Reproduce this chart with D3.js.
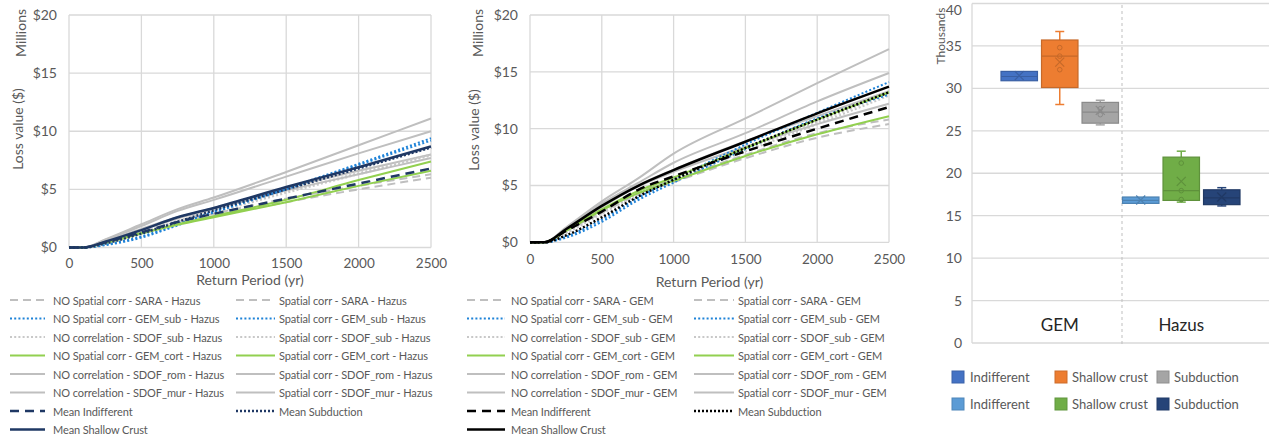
<!DOCTYPE html>
<html><head><meta charset="utf-8">
<script src="https://cdn.jsdelivr.net/npm/d3@7"></script>
<style>body{margin:0;background:#fff}svg{display:block;font-family:Lato,'Open Sans',sans-serif}</style>
</head><body><svg id="c" width="1269" height="439"></svg>
<script>
// ---------------- DATA ----------------
const returnPeriods = [0, 100, 250, 500, 750, 1000, 1500, 2000, 2500];
const xTicks = [0, 500, 1000, 1500, 2000, 2500];
const yTicksLoss = [0, 5, 10, 15, 20];

// Hazus (left chart), values in $ millions
const hazusNoSara      = [0, 0, 0.45, 1.2, 2.0, 2.7, 3.9, 5.0, 6.0];
const hazusSpSara      = [0, 0, 0.5, 1.3, 2.2, 2.9, 4.2, 5.3, 6.3];
const hazusNoGemSub    = [0, 0, 0.2, 0.85, 1.9, 3.0, 5.0, 7.1, 9.2];
const hazusSpGemSub    = [0, 0, 0.25, 0.95, 2.0, 3.1, 5.1, 7.2, 9.4];
const hazusNoSdofSub   = [0, 0, 0.35, 1.2, 2.2, 3.0, 4.7, 6.3, 7.9];
const hazusSpSdofSub   = [0, 0, 0.4, 1.3, 2.3, 3.1, 4.8, 6.4, 8.0];
const hazusNoGemCort   = [0, 0, 0.4, 1.2, 1.95, 2.6, 3.9, 5.3, 6.6];
const hazusSpGemCort   = [0, 0, 0.45, 1.25, 2.0, 2.7, 4.1, 5.8, 7.4];
const hazusNoSdofRom   = [0, 0, 0.7, 2.0, 3.3, 4.3, 6.5, 8.8, 11.1];
const hazusSpSdofRom   = [0, 0, 0.65, 1.85, 3.15, 4.1, 6.1, 8.1, 10.0];
const hazusNoSdofMur   = [0, 0, 0.55, 1.6, 2.6, 3.4, 5.1, 6.6, 8.0];
const hazusSpSdofMur   = [0, 0, 0.5, 1.5, 2.5, 3.3, 4.9, 6.3, 7.7];
const hazusMeanInd     = [0, 0, 0.45, 1.3, 2.2, 2.9, 4.2, 5.5, 6.8];
const hazusMeanSub     = [0, 0, 0.35, 1.2, 2.2, 3.2, 5.0, 6.8, 8.6];
const hazusMeanShallow = [0, 0, 0.5, 1.5, 2.6, 3.4, 5.2, 6.9, 8.7];

// GEM (middle chart), values in $ millions
const gemNoSara      = [0, 0, 1.0, 2.6, 4.2, 5.3, 7.4, 9.2, 10.4];
const gemSpSara      = [0, 0, 1.05, 2.7, 4.4, 5.5, 7.7, 9.6, 10.8];
const gemNoGemSub    = [0, 0, 0.4, 1.8, 3.7, 5.25, 8.2, 10.9, 13.0];
const gemSpGemSub    = [0, 0, 0.5, 2.0, 3.9, 5.5, 8.6, 11.4, 14.1];
const gemNoSdofSub   = [0, 0, 0.8, 2.5, 4.2, 5.6, 8.0, 10.4, 12.9];
const gemSpSdofSub   = [0, 0, 0.85, 2.6, 4.3, 5.7, 8.2, 10.6, 13.1];
const gemNoGemCort   = [0, 0, 1.0, 2.8, 4.3, 5.4, 7.6, 9.5, 11.1];
const gemSpGemCort   = [0, 0, 1.05, 2.9, 4.5, 5.7, 8.3, 10.8, 13.2];
const gemNoSdofRom   = [0, 0, 1.3, 3.6, 5.6, 7.8, 10.9, 14.0, 17.0];
const gemSpSdofRom   = [0, 0, 1.25, 3.4, 5.2, 7.0, 9.6, 12.4, 14.9];
const gemNoSdofMur   = [0, 0, 1.1, 3.1, 4.9, 6.2, 8.4, 10.4, 12.2];
const gemSpSdofMur   = [0, 0, 1.15, 3.2, 5.0, 6.4, 8.9, 11.1, 13.3];
const gemMeanInd     = [0, 0, 1.0, 2.7, 4.6, 5.8, 8.0, 10.0, 11.9];
const gemMeanSub     = [0, 0, 0.6, 2.2, 4.0, 5.5, 8.3, 10.8, 13.2];
const gemMeanShallow = [0, 0, 1.15, 3.2, 4.95, 6.35, 8.85, 11.35, 13.7];

const kindLabels = ["SARA", "GEM_sub", "SDOF_sub", "GEM_cort", "SDOF_rom", "SDOF_mur"];
const noPrefixes = ["NO Spatial corr", "NO Spatial corr", "NO correlation", "NO Spatial corr", "NO correlation", "NO correlation"];
const spPrefix = "Spatial corr";
const meanLabels = ["Mean Indifferent", "Mean Subduction", "Mean Shallow Crust"];

// Box plot (right chart), values in thousands
const boxCategories = ["GEM", "Hazus"];
const boxGroups = ["Indifferent", "Shallow crust", "Subduction"];
const yTicksBox = [0, 5, 10, 15, 20, 25, 30, 35, 40];
const gemBoxMin    = [30.9, 28.1, 25.7];
const gemBoxQ1     = [30.9, 30.1, 25.9];
const gemBoxMedian = [31.4, 33.8, 27.2];
const gemBoxQ3     = [32.0, 35.7, 28.35];
const gemBoxMax    = [32.0, 36.7, 28.6];
const gemBoxMean   = [31.5, 33.1, 27.4];
const gemBoxPoints = [[], [34.8, 33.8, 32.2], [27.6, 26.9]];
const hazusBoxMin    = [16.45, 16.6, 16.15];
const hazusBoxQ1     = [16.45, 16.8, 16.3];
const hazusBoxMedian = [16.8, 17.95, 17.1];
const hazusBoxQ3     = [17.2, 21.9, 18.05];
const hazusBoxMax    = [17.2, 22.6, 18.3];
const hazusBoxMean   = [16.85, 19.05, 17.2];
const hazusBoxPoints = [[], [21.2, 17.95, 16.9], []];

// ---------------- STYLES ----------------
const GRID = "#d9d9d9", TXT = "#595959";
const kindStyles = [
  {color: "#bfbfbf", dash: "8,5", w: 2},
  {color: "#1f83d8", dash: "2,2.2", w: 2},
  {color: "#c8c8c8", dash: "2,2.2", w: 2},
  {color: "#92d050", dash: null, w: 2},
  {color: "#bfbfbf", dash: null, w: 2},
  {color: "#bfbfbf", dash: null, w: 2}
];
const meanDash = ["9,6", "2,2", null];

const svg = d3.select("#c");

function lineChart(cfg) {
  const x = d3.scaleLinear().domain([0, 2500]).range([cfg.x0, cfg.x1]);
  const y = d3.scaleLinear().domain([0, 20]).range([cfg.y0, cfg.y1]);
  const g = svg.append("g");
  g.selectAll(".gy").data(yTicksLoss).join("line")
    .attr("x1", cfg.x0).attr("x2", cfg.x1).attr("y1", d => y(d)).attr("y2", d => y(d))
    .attr("stroke", GRID).attr("stroke-width", 1.3);
  g.selectAll(".gx").data(xTicks).join("line")
    .attr("y1", cfg.y0).attr("y2", cfg.y1).attr("x1", d => x(d)).attr("x2", d => x(d))
    .attr("stroke", GRID).attr("stroke-width", 1.3);
  const ya = g.append("g").attr("transform", `translate(${cfg.x0},0)`)
    .call(d3.axisLeft(y).tickValues(yTicksLoss).tickSize(0).tickPadding(cfg.ytp).tickFormat(d => "$" + d));
  ya.select(".domain").remove();
  ya.selectAll(".tick text").attr("fill", TXT).attr("font-size", 14).attr("font-family", "Lato");
  const xa = g.append("g").attr("transform", `translate(0,${cfg.y0})`)
    .call(d3.axisBottom(x).tickValues(xTicks).tickSize(0).tickPadding(cfg.xtp).tickFormat(d3.format("d")));
  xa.select(".domain").remove();
  xa.selectAll(".tick text").attr("fill", TXT).attr("font-size", 13.5).attr("font-family", "Lato");
  g.append("text").attr("transform", `translate(${cfg.millX},${cfg.millY}) rotate(-90)`)
    .attr("text-anchor", "middle").attr("dominant-baseline", "central")
    .attr("fill", TXT).attr("font-size", 14).text("Millions");
  g.append("text").attr("transform", `translate(${cfg.lossX},${cfg.lossY}) rotate(-90)`)
    .attr("text-anchor", "middle").attr("dominant-baseline", "central")
    .attr("fill", TXT).attr("font-size", 14).text("Loss value ($)");
  g.append("text").attr("x", (cfg.x0 + cfg.x1) / 2).attr("y", cfg.titleY)
    .attr("text-anchor", "middle").attr("dominant-baseline", "central")
    .attr("fill", TXT).attr("font-size", 14).text("Return Period (yr)");

  const line = d3.line().x((d, i) => x(returnPeriods[i])).y(d => y(d)).curve(d3.curveMonotoneX);
  const series = [];
  cfg.noData.forEach((d, k) => series.push({vals: d, st: kindStyles[k], label: noPrefixes[k] + " - " + kindLabels[k] + " - " + cfg.suffix}));
  cfg.spData.forEach((d, k) => series.push({vals: d, st: kindStyles[k], label: spPrefix + " - " + kindLabels[k] + " - " + cfg.suffix}));
  const means = cfg.meanData.map((d, k) => ({vals: d, st: {color: cfg.meanColor, dash: meanDash[k], w: 2.5}, label: meanLabels[k]}));
  const order = [0, 2, 4, 5, 6, 8, 10, 11, 1, 7, 3, 9];
  const drawList = order.map(i => series[i]).concat([means[1], means[0], means[2]]);
  g.selectAll(".s").data(drawList).join("path")
    .attr("d", d => line(d.vals)).attr("fill", "none")
    .attr("stroke", d => d.st.color).attr("stroke-width", d => d.st.w)
    .attr("stroke-dasharray", d => d.st.dash);

  const rows = [];
  for (let k = 0; k < 6; k++) { rows.push([series[k], series[6 + k]]); }
  rows.push([means[0], means[1]]);
  rows.push([means[2], null]);
  const rowY = d3.range(8).map(i => 300 + i * 18.5);
  const lg = svg.append("g");
  rows.forEach((r, i) => {
    r.forEach((s, c) => {
      if (!s) return;
      const p = c === 0 ? cfg.lg1 : cfg.lg2;
      lg.append("line").attr("x1", p[0]).attr("x2", p[1]).attr("y1", rowY[i]).attr("y2", rowY[i])
        .attr("stroke", s.st.color).attr("stroke-width", s.st.w).attr("stroke-dasharray", s.st.dash);
      lg.append("text").attr("x", p[2]).attr("y", rowY[i]).attr("dominant-baseline", "central")
        .attr("fill", TXT).attr("font-size", 11).attr("letter-spacing", -0.1).text(s.label);
    });
  });
}

lineChart({
  x0: 69, x1: 431, y0: 247.5, y1: 15, ytp: 12, xtp: 11, titleY: 279,
  millX: 20, millY: 33, lossX: 17, lossY: 129, suffix: "Hazus", meanColor: "#1f3864",
  noData: [hazusNoSara, hazusNoGemSub, hazusNoSdofSub, hazusNoGemCort, hazusNoSdofRom, hazusNoSdofMur],
  spData: [hazusSpSara, hazusSpGemSub, hazusSpSdofSub, hazusSpGemCort, hazusSpSdofRom, hazusSpSdofMur],
  meanData: [hazusMeanInd, hazusMeanSub, hazusMeanShallow],
  lg1: [10, 45, 53], lg2: [236, 275, 279]
});
lineChart({
  x0: 530, x1: 889, y0: 242.3, y1: 15, ytp: 12, xtp: 12, titleY: 281,
  millX: 477, millY: 33, lossX: 473, lossY: 130, suffix: "GEM", meanColor: "#000000",
  noData: [gemNoSara, gemNoGemSub, gemNoSdofSub, gemNoGemCort, gemNoSdofRom, gemNoSdofMur],
  spData: [gemSpSara, gemSpGemSub, gemSpSdofSub, gemSpGemCort, gemSpSdofRom, gemSpSdofMur],
  meanData: [gemMeanInd, gemMeanSub, gemMeanShallow],
  lg1: [467, 505, 511], lg2: [694, 734, 738]
});

// ---------------- BOX PLOT ----------------
(function () {
  const X0 = 972, X1 = 1272, Y0 = 343, Y1 = 3.5;
  const y = d3.scaleLinear().domain([0, 40]).range([Y0, Y1]);
  const xc = d3.scaleBand().domain(boxCategories).range([1001, 1240]).paddingInner(4 / 121.5);
  const xs = d3.scaleBand().domain(boxGroups).range([0, xc.bandwidth()]).paddingInner(0.1);
  const g = svg.append("g");
  g.selectAll(".gy").data(yTicksBox).join("line")
    .attr("x1", X0).attr("x2", X1).attr("y1", d => y(d)).attr("y2", d => y(d))
    .attr("stroke", GRID).attr("stroke-width", 1.3);
  g.append("line").attr("x1", X0).attr("x2", X0).attr("y1", Y0).attr("y2", Y1).attr("stroke", GRID).attr("stroke-width", 1.3);
  g.append("line").attr("x1", 1122).attr("x2", 1122).attr("y1", Y0 + 1).attr("y2", Y1)
    .attr("stroke", "#bfbfbf").attr("stroke-width", 1).attr("stroke-dasharray", "3,3");
  const ya = g.append("g").attr("transform", `translate(${X0},0)`)
    .call(d3.axisLeft(y).tickValues(yTicksBox).tickSize(0).tickPadding(10));
  ya.select(".domain").remove();
  ya.selectAll(".tick text").attr("fill", TXT).attr("font-size", 14).attr("font-family", "Lato");
  ya.selectAll(".tick").filter(d => d === 40).select("text").attr("dy", "0.8em");
  g.append("text").attr("transform", "translate(940,36) rotate(-90)").attr("text-anchor", "middle")
    .attr("dominant-baseline", "central").attr("fill", TXT).attr("font-size", 12).text("Thousands");
  g.selectAll(".cat").data(boxCategories).join("text")
    .attr("x", d => xc(d) + xc.bandwidth() / 2).attr("y", 324).attr("text-anchor", "middle")
    .attr("dominant-baseline", "central").attr("fill", "#262626").attr("font-size", 17).text(d => d);

  const palettes = {GEM: ["#4472c4", "#ed7d31", "#a5a5a5"], Hazus: ["#5b9bd5", "#70ad47", "#264478"]};
  const stats = {
    GEM: {min: gemBoxMin, q1: gemBoxQ1, med: gemBoxMedian, q3: gemBoxQ3, max: gemBoxMax, mean: gemBoxMean, pts: gemBoxPoints},
    Hazus: {min: hazusBoxMin, q1: hazusBoxQ1, med: hazusBoxMedian, q3: hazusBoxQ3, max: hazusBoxMax, mean: hazusBoxMean, pts: hazusBoxPoints}
  };
  boxCategories.forEach(cat => {
    boxGroups.forEach((grp, i) => {
      const s = stats[cat], col = palettes[cat][i], dk = d3.color(col).darker(0.5).formatHex();
      const bx = xc(cat) + xs(grp), bw = xs.bandwidth(), cx = bx + bw / 2;
      [[s.q3[i], s.max[i]], [s.q1[i], s.min[i]]].forEach(([a, b]) => {
        if (Math.abs(a - b) < 0.05) return;
        g.append("line").attr("x1", cx).attr("x2", cx).attr("y1", y(a)).attr("y2", y(b)).attr("stroke", col).attr("stroke-width", 1.5);
        g.append("line").attr("x1", cx - 4.5).attr("x2", cx + 4.5).attr("y1", y(b)).attr("y2", y(b)).attr("stroke", col).attr("stroke-width", 1.5);
      });
      g.append("rect").attr("x", bx).attr("y", y(s.q3[i])).attr("width", bw).attr("height", y(s.q1[i]) - y(s.q3[i]))
        .attr("fill", col).attr("stroke", dk).attr("stroke-width", 1.2);
      g.append("line").attr("x1", bx).attr("x2", bx + bw).attr("y1", y(s.med[i])).attr("y2", y(s.med[i]))
        .attr("stroke", dk).attr("stroke-width", 1.2);
      s.pts[i].forEach(p => g.append("circle").attr("cx", cx).attr("cy", y(p)).attr("r", 2.3)
        .attr("fill", "none").attr("stroke", dk).attr("stroke-width", 1));
      const my = y(s.mean[i]), m = 4.5;
      g.append("path").attr("d", `M${cx - m},${my - m}L${cx + m},${my + m}M${cx - m},${my + m}L${cx + m},${my - m}`)
        .attr("stroke", dk).attr("stroke-width", 1.2);
    });
  });
  const lx = [[952, 970], [1055, 1072], [1157, 1174]];
  boxCategories.forEach((cat, r) => {
    const ly = r === 0 ? 377 : 404;
    boxGroups.forEach((grp, i) => {
      const col = palettes[cat][i];
      g.append("rect").attr("x", lx[i][0]).attr("y", ly - 6).attr("width", 12).attr("height", 12)
        .attr("fill", col).attr("stroke", d3.color(col).darker(0.4).formatHex()).attr("stroke-width", 1);
      g.append("text").attr("x", lx[i][1]).attr("y", ly).attr("dominant-baseline", "central")
        .attr("fill", TXT).attr("font-size", 13).text(grp);
    });
  });
})();
</script></body></html>
